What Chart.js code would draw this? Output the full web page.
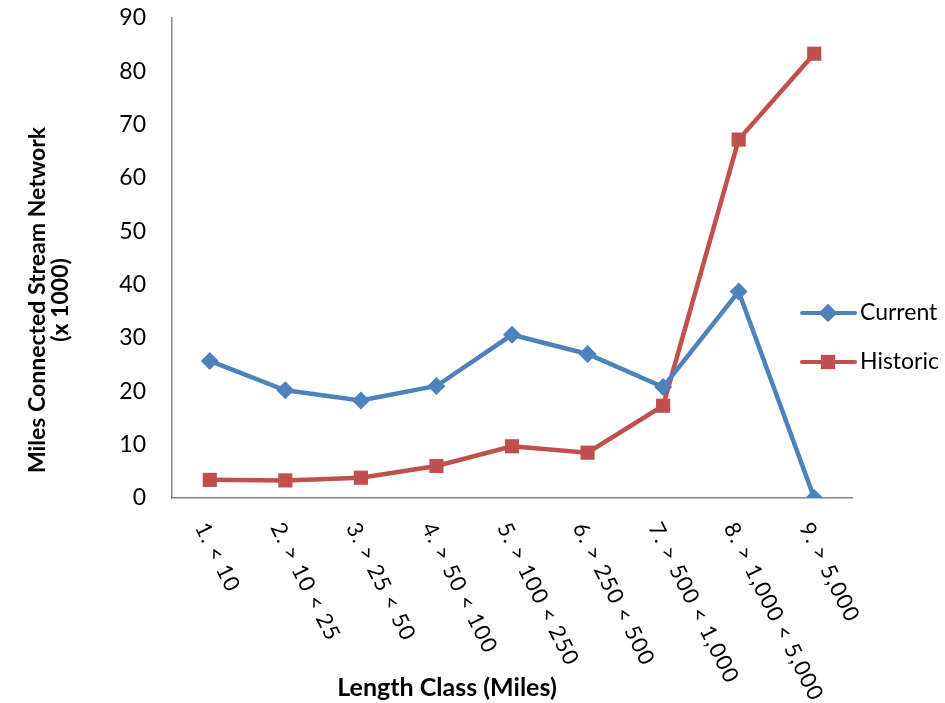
<!DOCTYPE html>
<html>
<head>
<meta charset="utf-8">
<script src="https://cdn.jsdelivr.net/npm/chart.js@4/dist/chart.umd.min.js"></script>
<style>
  html, body { margin: 0; padding: 0; background: #fff; }
  #wrap { width: 945px; height: 703px; }
</style>
</head>
<body>
<div id="wrap"><canvas id="chart" width="945" height="703"></canvas></div>
<script>
// data
const lengthClasses = [
  "1. < 10",
  "2. > 10 < 25",
  "3. > 25 < 50",
  "4. > 50 < 100",
  "5. > 100 < 250",
  "6. > 250 < 500",
  "7. > 500 < 1,000",
  "8. > 1,000 < 5,000",
  "9. > 5,000",
];
const currentMiles = [25.7, 20.2, 18.3, 21.0, 30.6, 27.0, 20.8, 38.7, 0];
const historicMiles = [3.4, 3.3, 3.8, 6.0, 9.7, 8.5, 17.3, 67.2, 83.3];
const yTicks = [0, 10, 20, 30, 40, 50, 60, 70, 80, 90];

const blue = "#4F81BD";
const red = "#C0504D";
const axisGray = "#868686";
const font = "Lato, 'Open Sans', sans-serif";

// slanted x labels (text runs down to the right from each tick)
const slantLabels = {
  id: "slantLabels",
  afterDraw(chart) {
    const ctx = chart.ctx;
    const x = chart.scales.x;
    const bottom = chart.chartArea.bottom;
    ctx.save();
    ctx.font = "22px " + font;
    ctx.letterSpacing = "1px";
    ctx.fillStyle = "#000";
    ctx.textAlign = "left";
    ctx.textBaseline = "middle";
    lengthClasses.forEach((lbl, i) => {
      const px = x.getPixelForValue(i);
      ctx.save();
      ctx.translate(px - 9, bottom + 26);
      ctx.rotate((63.5 * Math.PI) / 180);
      ctx.fillText(lbl, 0, 0);
      ctx.restore();
    });
    ctx.restore();
  },
};

// axis titles, placed like the original (not centred on the plot)
const axisTitles = {
  id: "axisTitles",
  afterDraw(chart) {
    const ctx = chart.ctx;
    ctx.save();
    ctx.fillStyle = "#000";
    ctx.textAlign = "center";
    ctx.textBaseline = "middle";
    ctx.font = "bold 25px " + font;
    ctx.fillText("Length Class (Miles)", 447, 688);
    ctx.translate(49, 300);
    ctx.rotate(-Math.PI / 2);
    ctx.font = "bold 23px " + font;
    ctx.fillText("Miles Connected Stream Network", 0, -11);
    ctx.fillText("(x 1000)", 0, 12);
    ctx.restore();
  },
};

// legend at the right, line + marker + name
const sideLegend = {
  id: "sideLegend",
  afterDraw(chart) {
    const ctx = chart.ctx;
    const items = [
      { name: "Current", color: blue, style: "rectRot", r: 9, y: 313 },
      { name: "Historic", color: red, style: "rect", r: 10, y: 362 },
    ];
    ctx.save();
    items.forEach((it) => {
      ctx.strokeStyle = it.color;
      ctx.lineWidth = 4;
      ctx.lineCap = "round";
      ctx.beginPath();
      ctx.moveTo(802, it.y);
      ctx.lineTo(855, it.y);
      ctx.stroke();
      ctx.fillStyle = it.color;
      Chart.helpers.drawPoint(ctx, { pointStyle: it.style, radius: it.r, rotation: 0, borderWidth: 0 }, 828, it.y);
      ctx.fill();
      ctx.fillStyle = "#000";
      ctx.font = "23px " + font;
      ctx.textAlign = "left";
      ctx.textBaseline = "middle";
      ctx.fillText(it.name, 860, it.y);
    });
    ctx.restore();
  },
};

new Chart(document.getElementById("chart"), {
  type: "line",
  data: {
    labels: lengthClasses,
    datasets: [
      {
        label: "Current",
        data: currentMiles,
        borderColor: blue,
        backgroundColor: blue,
        borderWidth: 4.5,
        pointStyle: "rectRot",
        pointRadius: 9,
        pointBorderWidth: 0,
        tension: 0,
      },
      {
        label: "Historic",
        data: historicMiles,
        borderColor: red,
        backgroundColor: red,
        borderWidth: 4.5,
        pointStyle: "rect",
        pointRadius: 10,
        pointBorderWidth: 0,
        tension: 0,
      },
    ],
  },
  options: {
    responsive: false,
    animation: false,
    layout: { padding: { top: 18, right: 93, bottom: 0, left: 0 } },
    plugins: {
      legend: { display: false },
      tooltip: { enabled: false },
    },
    scales: {
      x: {
        offset: true,
        grid: { display: false, drawTicks: false },
        border: { color: axisGray, width: 1.5 },
        ticks: { display: false },
        afterFit: (s) => {
          s.height = 205;
          s.paddingLeft = 0;
          s.paddingRight = 0;
        },
      },
      y: {
        min: 0,
        max: 90,
        afterBuildTicks: (axis) => {
          axis.ticks = yTicks.map((v) => ({ value: v }));
        },
        grid: { display: false, drawTicks: false },
        border: { color: axisGray, width: 1.5 },
        ticks: {
          font: { family: font, size: 23 },
          color: "#000",
          padding: 26,
        },
        afterFit: (s) => {
          s.width = 172;
          s.paddingTop = 0;
          s.paddingBottom = 0;
        },
      },
    },
  },
  plugins: [slantLabels, axisTitles, sideLegend],
});
</script>
</body>
</html>
